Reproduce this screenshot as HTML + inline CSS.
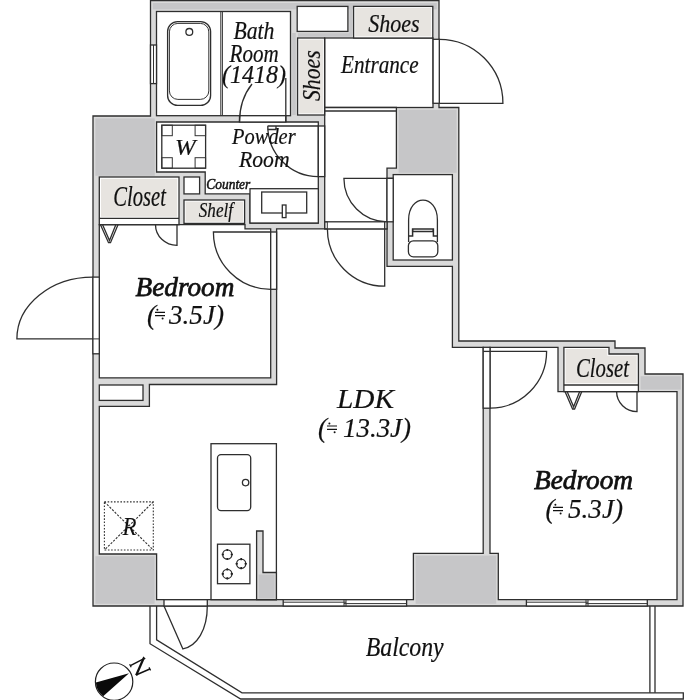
<!DOCTYPE html>
<html>
<head>
<meta charset="utf-8">
<title>Floor plan</title>
<style>
html,body{margin:0;padding:0;background:#fff;}
body{width:700px;height:700px;overflow:hidden;font-family:"Liberation Serif",serif;}
svg{display:block;filter:blur(0.35px);}
.w{fill:#dadada;stroke:#2e2e2e;stroke-width:1.3;}
.r{fill:#fff;stroke:#2e2e2e;stroke-width:1.3;}
.b{fill:#e7e4e0;stroke:none;}
.l{fill:none;stroke:#2e2e2e;stroke-width:1.3;}
.t{fill:none;stroke:#333;stroke-width:1;}
text{font-family:"Liberation Serif",serif;font-style:italic;fill:#111;}
.bd{font-weight:normal;stroke:#111;stroke-width:0.75;}
.tx text{stroke:#111;stroke-width:0.2;}
</style>
</head>
<body>
<svg width="700" height="700" viewBox="0 0 700 700">
<rect x="0" y="0" width="700" height="700" fill="#fff"/>

<!-- ===== WALL MASS ===== -->
<g id="walls">
<path class="w" d="M150.5,0.6 H439 V107.5 H458.8 V341 H615 V348 H645 V374 H683 V606 H93 V116 H150.5 Z"/>
<g fill="#c6c6c8" stroke="none">
<rect x="95.4" y="118.4" width="59.4" height="57.4"/>
<rect x="152.8" y="3" width="284" height="6.4"/>
<rect x="398.6" y="109.8" width="58" height="63"/>
<rect x="95.4" y="556.2" width="59.2" height="47.6"/>
<rect x="415.6" y="555.6" width="80.6" height="48.2"/>
<rect x="640.6" y="376.2" width="40.2" height="13.4"/>
<rect x="292.2" y="33" width="3.6" height="82"/>
<rect x="349.4" y="3" width="3" height="32"/>
<rect x="298" y="33.2" width="54" height="3.4"/>
</g>
</g>

<!-- ===== ROOM INTERIORS ===== -->
<g id="rooms">
<!-- bathroom -->
<rect class="r" x="156.5" y="11.5" width="134" height="104.2"/>
<!-- top storage -->
<rect class="r" x="297.2" y="6.4" width="50.7" height="25"/>
<!-- entrance -->
<rect class="r" x="324.7" y="38" width="108.3" height="69.5"/>
<!-- hall -->
<path class="r" d="M324.7,107.5 H396.4 V168.2 H387 V228.9 H324.7 Z"/>
<!-- powder room -->
<path class="r" d="M156.6,122 H318.3 V223 H250 V193.9 H205.2 V172 H156.6 Z"/>
<!-- toilet -->
<rect class="r" x="393.2" y="174.6" width="59.2" height="85.4"/>
<!-- bedroom 1 -->
<path class="r" d="M99.3,224.7 H245 V228.9 H270.7 V377.8 H99.3 Z"/>
<!-- PS -->
<rect class="r" x="99.3" y="385" width="43.7" height="15.4"/>
<!-- LDK -->
<path class="r" d="M276.6,228.9 H387 V266.3 H452.4 V347.3 H483.2 V553.4 H413.4 V599.7 H156.6 V554 H99.3 V406.3 H149.4 V384.5 H276.6 Z"/>
<!-- bedroom 2 -->
<path class="r" d="M490,347.3 H558 V391.6 H677 V599.7 H498.3 V553.4 H490 Z"/>
</g>

<!-- ===== STORAGE BOXES ===== -->
<g id="storage">
<!-- shoes top -->
<rect class="r" x="353.6" y="6.4" width="79.2" height="31.6"/>
<rect class="b" x="355.2" y="8" width="76" height="28.4"/>
<!-- shoes vertical -->
<rect class="r" x="297.6" y="38" width="27" height="77"/>
<rect class="b" x="299.2" y="39.6" width="23.8" height="73.8"/>
<!-- closet 1 -->
<rect class="r" x="99.3" y="177" width="79.7" height="47.7"/>
<rect class="b" x="101" y="178.8" width="76.2" height="38"/>
<line class="l" x1="99.3" y1="218.3" x2="179" y2="218.3"/>
<!-- small box -->
<rect class="r" x="184" y="177" width="15.6" height="16.9"/>
<!-- shelf -->
<rect class="r" x="184" y="200" width="60.6" height="23.4"/>
<rect class="b" x="185.6" y="201.6" width="57.4" height="20.2"/>
<!-- closet 2 -->
<path class="r" d="M563.9,347.4 H609 V354 H638.4 V391.6 H563.9 Z"/>
<path class="b" d="M565.6,349.1 H607.3 V355.7 H636.7 V383.3 H565.6 Z"/>
<line class="l" x1="563.9" y1="385" x2="638.4" y2="385"/>
</g>

<!-- ===== FIXTURES ===== -->
<g id="fixtures">
<!-- bath divider -->
<line class="t" x1="220.8" y1="11.5" x2="220.8" y2="115.7"/>
<line class="t" x1="222.4" y1="11.5" x2="222.4" y2="115.7"/>
<!-- bathtub -->
<rect class="l" x="167.6" y="21.6" width="43" height="83.8" rx="10" ry="10"/>
<rect class="t" x="169.4" y="23.4" width="39.4" height="76" rx="8.5" ry="8.5"/>
<circle class="l" cx="189.3" cy="31.9" r="3.4"/>
<!-- washer -->
<rect class="l" x="161.8" y="125.2" width="43.8" height="43"/>
<rect class="t" x="161.8" y="125.2" width="10.5" height="10.5"/>
<rect class="t" x="195.1" y="125.2" width="10.5" height="10.5"/>
<rect class="t" x="161.8" y="157.7" width="10.5" height="10.5"/>
<rect class="t" x="195.1" y="157.7" width="10.5" height="10.5"/>
<!-- sink counter -->
<rect class="r" x="250" y="188.7" width="68.3" height="34.3"/>
<rect class="l" x="261.7" y="192" width="45" height="21"/>
<rect class="r" x="282.3" y="205" width="3.7" height="12.6"/>
<!-- toilet -->
<path class="l" d="M408.6,236 V220 C408.6,193.6 437.4,193.6 437.4,220 V236"/>
<path class="l" d="M408.6,236 H412.6 V229 H433.4 V236 H437.4" style="stroke-width:1.5"/>
<path class="l" d="M412.6,229 V231.5 H433.2 V229"/>
<rect class="l" x="408.4" y="240.8" width="29.4" height="16" rx="5" ry="5"/>
<path class="l" d="M408.6,236 V242 M437.4,236 V242"/>
<!-- kitchen -->
<rect class="r" x="211" y="443.7" width="65.4" height="156"/>
<rect class="l" x="217.5" y="454.6" width="33.2" height="56" rx="3.5" ry="3.5"/>
<circle class="l" cx="245.6" cy="482.6" r="3.2"/>
<rect class="l" x="217.5" y="544.2" width="32.4" height="39.5"/>
<circle class="l" cx="227.3" cy="554.5" r="4.6"/>
<circle class="l" cx="241.2" cy="563.7" r="4.6"/>
<circle class="l" cx="227.3" cy="573.9" r="4.6"/>
<path d="M227.3,548.9 v2.2 M227.3,557.9 v2.2 M221.7,554.5 h2.2 M230.7,554.5 h2.2 M241.2,558.1 v2.2 M241.2,567.1 v2.2 M235.6,563.7 h2.2 M244.6,563.7 h2.2 M227.3,568.3 v2.2 M227.3,577.3 v2.2 M221.7,573.9 h2.2 M230.7,573.9 h2.2" fill="none" stroke="#222" stroke-width="1.6"/>
<!-- partial wall -->
<path class="w" d="M256.6,599.7 V531 H263 V572.5 H276.4 V599.7 Z"/>
<rect x="258.6" y="574.5" width="16" height="24" fill="#c6c6c8"/>
<!-- R box -->
<rect x="104.4" y="501.9" width="48.9" height="48.1" fill="none" stroke="#333" stroke-width="1.1" stroke-dasharray="1.6,1.6"/>
<path d="M104.4,501.9 L153.3,550 M153.3,501.9 L104.4,550" fill="none" stroke="#333" stroke-width="1.1" stroke-dasharray="2.2,1.4"/>
</g>

<!-- ===== OPENINGS / DOORS / WINDOWS ===== -->
<g id="openings">
<!-- bath window -->
<rect class="r" x="150.5" y="45" width="6" height="38.6"/>
<line class="t" x1="153.5" y1="45" x2="153.5" y2="83.6"/>
<!-- entrance door -->
<rect class="r" x="433.1" y="39.3" width="6.2" height="64"/>
<path class="l" d="M439.3,39.3 A63.6,64 0 0 1 502.9,103.3 H439.3"/>
<!-- entrance step -->
<line class="l" x1="324.7" y1="111" x2="396.4" y2="111"/>
<!-- bath door -->
<rect class="r" x="239.5" y="115.7" width="46.3" height="6.3"/>
<path class="l" d="M285.8,122 V78 M239.5,122 C239.5,106 244,94 252,84"/>
<!-- powder room door -->
<rect class="r" x="318.3" y="126" width="6.4" height="50.6"/>
<path class="l" d="M267.6,126 H318.3 M267.8,126 V129.5 H276 V126 M267.8,126 A50.5,50.5 0 0 0 318.3,176.6"/>
<!-- hall/toilet door -->
<rect class="r" x="387" y="178.3" width="6.2" height="43.5"/>
<path class="l" d="M393.2,178.3 H343.9 A43.2,43.5 0 0 0 387,221.8"/>
<!-- LDK door -->
<rect class="r" x="324.7" y="221.8" width="62.3" height="7.1"/>
<rect class="t" x="324.7" y="221.8" width="2.6" height="7.1"/>
<path class="l" d="M384.7,222 V286.2 A57.3,57.3 0 0 1 327.4,228.9"/>
<!-- bedroom1 door -->
<rect class="r" x="270.7" y="232" width="5.9" height="57.3"/>
<path class="l" d="M270.7,232 H213.4 A57.3,57.3 0 0 0 270.7,289.3"/>
<!-- closet1 doors -->
<path class="l" d="M100.5,224.7 L108.5,242.7 H110.5 L118,224.7 M102.6,224.7 L109.5,240.5 L115.8,224.7"/>
<path class="l" d="M177,224.7 V245.3 A21.5,20.6 0 0 1 155.5,224.7"/>
<!-- bedroom1 west door/window -->
<rect class="r" x="92.9" y="277.1" width="6.4" height="76.7"/>
<path class="l" d="M92.9,277.1 A76,61.8 0 0 0 16.9,338.9 H92.9"/>
<line class="t" x1="92.9" y1="338.9" x2="99.3" y2="338.9"/>
<!-- bedroom2 door -->
<rect class="r" x="483.2" y="347.3" width="6.8" height="60.9"/>
<path class="l" d="M490,351.4 H546.6 A56.7,56.7 0 0 1 490,408.2"/>
<line class="l" x1="483.2" y1="351.4" x2="490" y2="351.4"/>
<!-- closet2 doors -->
<path class="l" d="M565,391.6 L572.6,409 H574.6 L581.8,391.6 M567.1,391.6 L573.6,406.8 L579.7,391.6"/>
<path class="l" d="M637,391.6 V411.6 A20.4,20 0 0 1 616.6,391.6"/>
<!-- LDK window -->
<rect class="r" x="283.2" y="599.7" width="123.4" height="6.3"/>
<path class="t" d="M283.2,602.2 H346 M344,603.6 H406.6 M344,599.7 V606 M346,599.7 V606"/>
<!-- bedroom2 window -->
<rect class="r" x="526.4" y="599.7" width="120.9" height="6.3"/>
<path class="t" d="M526.4,602.2 H588 M586,603.6 H647.3 M586,599.7 V606 M588,599.7 V606"/>
<!-- kitchen balcony door -->
<rect class="r" x="164" y="599.7" width="43.3" height="6.3"/>
<path class="l" d="M164,606 L182.9,648.9 C197,646 207.3,630 207.3,606"/>
</g>

<!-- ===== BALCONY ===== -->
<g id="balcony">
<path class="l" d="M150,606 V643.7 L240.7,699 H683.3 V692.8 H242 L156.6,639.9 V606"/>
<path class="l" d="M649.9,606 V692.8 M655,606 V692.8"/>
</g>

<!-- ===== COMPASS ===== -->
<g id="compass">
<circle cx="114.1" cy="681.7" r="18.7" fill="#fff" stroke="#222" stroke-width="1.2"/>
<path d="M129,673.2 L95.9,682.5 A18.2,18.2 0 0 0 103.15,696.2 Z" fill="#0a0a0a"/>
<path d="M130.4,665.6 L144,658.6 M136,675 L149.8,669" fill="none" stroke="#111" stroke-width="1.4"/>
<path d="M143.6,658.4 L136.2,675.2" fill="none" stroke="#111" stroke-width="2.3"/>
<path d="M129.6,664.2 L131.2,667.2 M149,667.4 L150.6,670.4 M143,657 L145.2,659" fill="none" stroke="#111" stroke-width="1.2"/>
</g>

<!-- ===== LABELS ===== -->
<g id="labels">
<g class="tx">
<text x="233.4" y="38.6" font-size="24.5" textLength="41" lengthAdjust="spacingAndGlyphs">Bath</text>
<text x="229.6" y="61.7" font-size="24.5" textLength="49" lengthAdjust="spacingAndGlyphs">Room</text>
<text x="222" y="83.4" font-size="24.5" textLength="64" lengthAdjust="spacingAndGlyphs">(1418)</text>
<text x="368.2" y="32.1" font-size="26" textLength="51.4" lengthAdjust="spacingAndGlyphs">Shoes</text>
<text x="0" y="0" font-size="26" transform="translate(320,101) rotate(-90)" textLength="50.6" lengthAdjust="spacingAndGlyphs">Shoes</text>
<text x="341" y="72.9" font-size="25.5" textLength="77.6" lengthAdjust="spacingAndGlyphs">Entrance</text>
<text x="232.1" y="144" font-size="24" textLength="63.5" lengthAdjust="spacingAndGlyphs">Powder</text>
<text x="239" y="166.6" font-size="24" textLength="50.6" lengthAdjust="spacingAndGlyphs">Room</text>
<text x="175" y="155.4" font-size="24" textLength="20.6" lengthAdjust="spacingAndGlyphs">W</text>
<text x="206.3" y="188.6" font-size="15.5" textLength="44" lengthAdjust="spacingAndGlyphs" style="stroke-width:0.55">Counter</text>
<text x="113.3" y="205.7" font-size="29" textLength="52.6" lengthAdjust="spacingAndGlyphs">Closet</text>
<text x="198.8" y="217.1" font-size="21" textLength="34.2" lengthAdjust="spacingAndGlyphs">Shelf</text>
<text x="576" y="377.3" font-size="28" textLength="53" lengthAdjust="spacingAndGlyphs">Closet</text>
<text x="365.7" y="655.5" font-size="28" textLength="78" lengthAdjust="spacingAndGlyphs">Balcony</text>
<text x="122.4" y="535.3" font-size="25" textLength="14" lengthAdjust="spacingAndGlyphs" style="stroke-width:0">R</text>
<text x="337" y="408.4" font-size="28" textLength="57" lengthAdjust="spacingAndGlyphs">LDK</text>
<text x="318" y="437" font-size="27" >(</text>
<text x="343" y="437" font-size="27" textLength="68" lengthAdjust="spacingAndGlyphs">13.3J)</text>
<text x="147" y="324" font-size="27">(</text>
<text x="169" y="324" font-size="27" textLength="55" lengthAdjust="spacingAndGlyphs">3.5J)</text>
<text x="545.6" y="518" font-size="27">(</text>
<text x="568" y="518" font-size="27" textLength="55" lengthAdjust="spacingAndGlyphs">5.3J)</text>
</g>
<text class="bd" x="135.6" y="295.6" font-size="28" textLength="98.8" lengthAdjust="spacingAndGlyphs">Bedroom</text>
<text class="bd" x="534" y="489.4" font-size="28" textLength="99" lengthAdjust="spacingAndGlyphs">Bedroom</text>
<g transform="translate(327,422.6)"><path d="M0,3.4 H10 M0,6.7 H10" fill="none" stroke="#111" stroke-width="1.2"/><circle cx="2.4" cy="0.8" r="1" fill="#111"/><circle cx="7.6" cy="9.6" r="1" fill="#111"/></g>
<g transform="translate(155,309)"><path d="M0,3.4 H10 M0,6.7 H10" fill="none" stroke="#111" stroke-width="1.2"/><circle cx="2.4" cy="0.8" r="1" fill="#111"/><circle cx="7.6" cy="9.6" r="1" fill="#111"/></g>
<g transform="translate(553,504)"><path d="M0,3.4 H10 M0,6.7 H10" fill="none" stroke="#111" stroke-width="1.2"/><circle cx="2.4" cy="0.8" r="1" fill="#111"/><circle cx="7.6" cy="9.6" r="1" fill="#111"/></g>
</g>
</svg>
</body>
</html>
